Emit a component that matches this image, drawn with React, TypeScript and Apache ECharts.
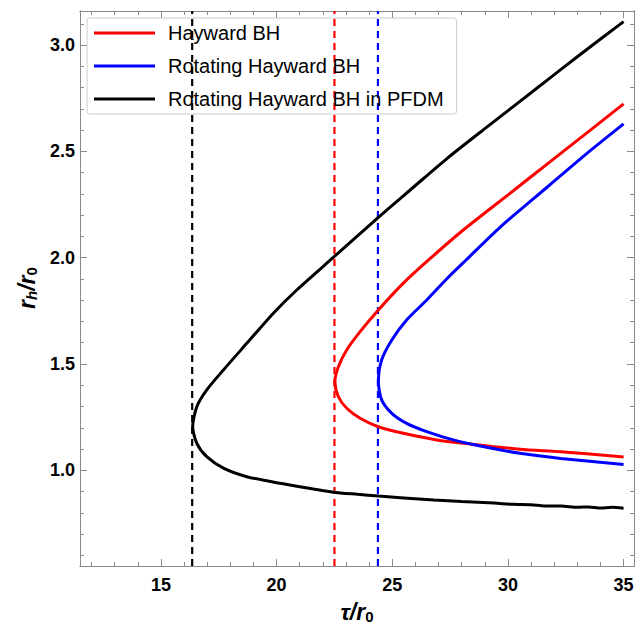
import React, { useEffect, useRef } from "react";
import * as echarts from "echarts";

const X_MIN = 11.5;
const X_MAX = 35.45;
const Y_MIN = 0.55;
const Y_MAX = 3.16;

const xMajorTicks = [15, 20, 25, 30, 35];
const xMinorTicks = [12, 13, 14, 15, 16, 17, 18, 19, 20, 21, 22, 23, 24, 25, 26, 27, 28, 29, 30, 31, 32, 33, 34, 35];
const yMajorTicks = [1.0, 1.5, 2.0, 2.5, 3.0];
const yMinorTicks = [0.6, 0.7, 0.8, 0.9, 1.0, 1.1, 1.2, 1.3, 1.4, 1.5, 1.6, 1.7, 1.8, 1.9, 2.0, 2.1, 2.2, 2.3, 2.4, 2.5, 2.6, 2.7, 2.8, 2.9, 3.0, 3.1];

const seriesNames = ["Hayward BH", "Rotating Hayward BH", "Rotating Hayward BH in PFDM"];
const seriesColors = ["#ff0000", "#0000ff", "#000000"];

// Hayward BH (tau/r0, rh/r0), from lower-branch end through the turning point to the upper-branch end
const haywardBH: [number, number][] = [
  [35.0, 1.063], [32.28, 1.087], [30.52, 1.099], [28.36, 1.124], [26.92, 1.143], [25.48, 1.174],
  [24.4, 1.205], [23.61, 1.245], [23.03, 1.292], [22.67, 1.346], [22.52, 1.417], [22.67, 1.487],
  [23.03, 1.566], [23.61, 1.652], [24.4, 1.754], [25.48, 1.88], [26.63, 1.995], [28.07, 2.13],
  [30.26, 2.317], [31.68, 2.439], [32.42, 2.502], [35.0, 2.723],
];

// Rotating Hayward BH
const rotatingHaywardBH: [number, number][] = [
  [35.0, 1.027], [32.28, 1.056], [30.52, 1.08], [29.08, 1.108], [27.64, 1.143], [26.49, 1.182],
  [25.62, 1.221], [24.98, 1.268], [24.54, 1.331], [24.4, 1.417], [24.54, 1.519], [24.98, 1.613],
  [25.62, 1.707], [26.49, 1.801], [27.35, 1.9], [28.2, 1.99], [29.68, 2.145], [31.68, 2.33],
  [33.3, 2.48], [35.0, 2.629],
];

// Rotating Hayward BH in PFDM
const rotatingHaywardPFDM: [number, number][] = [
  [35.0, 0.822], [34.5, 0.826], [34.0, 0.823], [33.5, 0.828], [33.0, 0.826], [32.3, 0.832],
  [31.6, 0.832], [31.0, 0.838], [30.2, 0.84], [29.4, 0.846], [28.0, 0.853], [26.8, 0.86],
  [25.5, 0.87], [24.4, 0.879], [23.5, 0.887], [22.45, 0.897], [21.59, 0.912], [20.16, 0.939],
  [18.71, 0.97], [17.7, 1.01], [16.98, 1.064], [16.55, 1.127], [16.37, 1.205], [16.55, 1.299],
  [16.98, 1.378], [17.7, 1.472], [18.71, 1.597], [19.86, 1.739], [20.87, 1.848], [22.45, 2.001],
  [24.4, 2.19], [25.9, 2.33], [27.35, 2.465], [29.1, 2.615], [30.52, 2.735], [31.7, 2.835],
  [33.0, 2.945], [35.0, 3.11],
];

// Turning-point (critical) temperatures, drawn as dashed verticals
const criticalTau = [22.5, 24.38, 16.35];

const AXIS_COLOR = "#8a8a8a";
const FONT = "Liberation Sans, Arial, sans-serif";

function xAxis(position: "bottom" | "top", ticks: number[], len: number, labels: boolean) {
  return {
    type: "value",
    position,
    min: X_MIN,
    max: X_MAX,
    offset: 0,
    axisLine: { show: true, onZero: false, lineStyle: { color: AXIS_COLOR, width: 1 } },
    axisTick: { show: true, inside: true, length: len, customValues: ticks, lineStyle: { color: AXIS_COLOR, width: 1 } },
    axisLabel: labels
      ? { show: true, customValues: ticks, margin: 10, color: "#000", fontSize: 18, fontWeight: "bold", fontFamily: FONT }
      : { show: false },
    splitLine: { show: false },
  };
}

function yAxis(position: "left" | "right", ticks: number[], len: number, labels: boolean) {
  return {
    type: "value",
    position,
    min: Y_MIN,
    max: Y_MAX,
    offset: 0,
    axisLine: { show: true, onZero: false, lineStyle: { color: AXIS_COLOR, width: 1 } },
    axisTick: { show: true, inside: true, length: len, customValues: ticks, lineStyle: { color: AXIS_COLOR, width: 1 } },
    axisLabel: labels
      ? {
          show: true,
          customValues: ticks,
          margin: 5,
          color: "#000",
          fontSize: 18,
          fontWeight: "bold",
          fontFamily: FONT,
          formatter: (v: number) => v.toFixed(1),
        }
      : { show: false },
    splitLine: { show: false },
  };
}

export default function App() {
  const ref = useRef<HTMLDivElement>(null);

  useEffect(() => {
    if (!ref.current) return;
    const chart = echarts.init(ref.current, undefined, { renderer: "svg" });
    const curves = [haywardBH, rotatingHaywardBH, rotatingHaywardPFDM];

    const titleRich = {
      m: { fontSize: 23, fontWeight: "bold", fontStyle: "italic", fontFamily: FONT, lineHeight: 28, fill: "#000" },
      si: { fontSize: 15, fontWeight: "bold", fontStyle: "italic", fontFamily: FONT, lineHeight: 28, padding: [9, 0, 0, 0], fill: "#000" },
      s: { fontSize: 15, fontWeight: "bold", fontFamily: FONT, lineHeight: 28, padding: [9, 0, 0, 0], fill: "#000" },
    };

    const option = {
      animation: false,
      backgroundColor: "#ffffff",
      grid: { left: 80, right: 10, top: 11, bottom: 70, containLabel: false },
      xAxis: [
        xAxis("bottom", xMajorTicks, 7, true),
        xAxis("bottom", xMinorTicks, 4, false),
        xAxis("top", xMajorTicks, 7, false),
        xAxis("top", xMinorTicks, 4, false),
      ],
      yAxis: [
        yAxis("left", yMajorTicks, 7, true),
        yAxis("left", yMinorTicks, 4, false),
        yAxis("right", yMajorTicks, 7, false),
        yAxis("right", yMinorTicks, 4, false),
      ],
      legend: {
        data: seriesNames,
        orient: "vertical",
        left: 87,
        top: 18,
        padding: [4, 13, 4, 7],
        itemGap: 11,
        itemWidth: 61,
        itemHeight: 3,
        icon: "rect",
        borderColor: "#cccccc",
        borderWidth: 1,
        borderRadius: 3,
        backgroundColor: "rgba(255,255,255,0)",
        textStyle: { color: "#000", fontSize: 20, lineHeight: 22, fontFamily: FONT, padding: [0, 0, 0, 8] },
      },
      series: [
        ...criticalTau.map((t, i) => ({
          name: "critical-" + i,
          type: "line",
          xAxisIndex: 0,
          yAxisIndex: 0,
          data: [
            [t, Y_MIN],
            [t, Y_MAX],
          ],
          symbol: "none",
          silent: true,
          lineStyle: { color: seriesColors[i], width: 2.2, type: [7, 5] },
          z: 1,
        })),
        ...curves.map((d, i) => ({
          name: seriesNames[i],
          type: "line",
          xAxisIndex: 0,
          yAxisIndex: 0,
          data: d,
          symbol: "none",
          smooth: 0.25,
          itemStyle: { color: seriesColors[i] },
          lineStyle: { color: seriesColors[i], width: 3 },
          z: 3,
        })),
      ],
      graphic: [
        {
          type: "text",
          x: 27,
          y: 288,
          rotation: Math.PI / 2,
          style: {
            text: "{m|r}{si|h}{m|/r}{s|0}",
            align: "center",
            verticalAlign: "middle",
            fill: "#000",
            rich: titleRich,
          },
        },
        {
          type: "text",
          x: 357,
          y: 612,
          style: {
            text: "{m|τ/r}{s|0}",
            align: "center",
            verticalAlign: "middle",
            fill: "#000",
            rich: titleRich,
          },
        },
      ],
    };

    chart.setOption(option as any);
    return () => chart.dispose();
  }, []);

  return <div ref={ref} style={{ position: "absolute", left: 0, top: 0, width: 644, height: 636 }} />;
}
